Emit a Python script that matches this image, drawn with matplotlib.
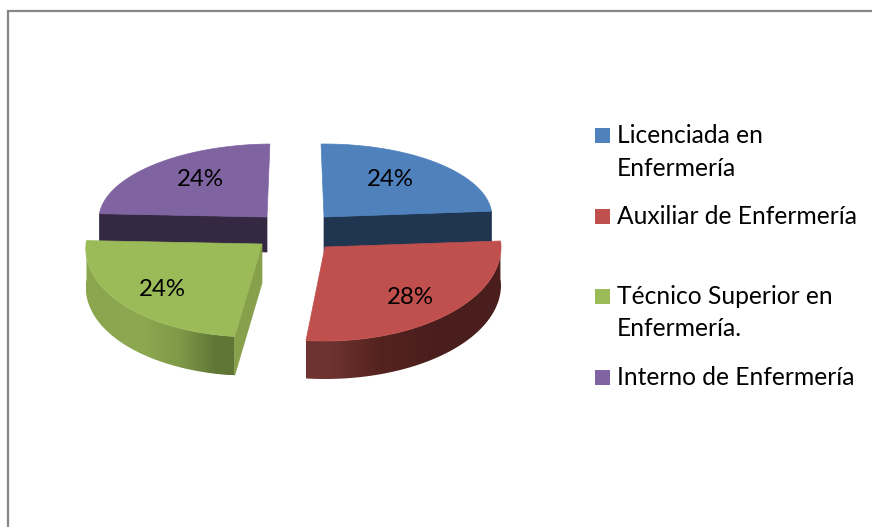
import matplotlib
matplotlib.use('Agg')
import matplotlib.pyplot as plt
from matplotlib.colors import to_rgb
from matplotlib.patches import Polygon, Rectangle
import numpy as np

labels = ['Licenciada en\nEnfermería', 'Auxiliar de Enfermería',
          'Técnico Superior en\nEnfermería.', 'Interno de Enfermería']
values = [24, 28, 24, 24]
colors = ['#4F81BD', '#C0504D', '#9BBB59', '#8064A2']

# exploded slice geometry in pixels, the fake 3d look needs one set per slice
centers = [(324, 217), (325, 247), (262, 244), (267, 217)]
radii_x = [168, 176, 176, 168]
radii_back = [73, 75, 75, 73]
radii_front = [73, 94, 93, 73]
depths = [35, 38, 39, 35]
shears = [0.0, 0.0, -0.09, -0.08]
pct_pos = [(390, 179), (410, 297), (162, 289), (200, 179)]
legend_y = [135, 216, 296, 377]
start_angle = 91


def slice_xy(i, angles):
    rad = np.radians(angles)
    s = np.sin(rad)
    dy = np.where(s > 0, -radii_back[i] * s, -radii_front[i] * s)
    dx = radii_x[i] * np.cos(rad) + shears[i] * dy
    return centers[i][0] + dx, centers[i][1] + dy


def draw_flat_wall(ax, i, angle, color):
    x, y = slice_xy(i, np.array([angle]))
    cx, cy = centers[i]
    d = depths[i]
    ax.add_patch(Polygon([(cx, cy), (x[0], y[0]), (x[0], y[0] + d), (cx, cy + d)],
                         closed=True, fc=color, ec=color, lw=0.5))


def draw_arc_wall(ax, i, a1, a2, stops):
    # horizontal gradient image clipped to the rim of the slice
    x, y = slice_xy(i, np.linspace(a1, a2, 120))
    d = depths[i]
    pts = list(zip(x, y)) + list(zip(x[::-1], y[::-1] + d))
    rim = Polygon(pts, closed=True, fc='none', ec='none', transform=ax.transData)
    ax.add_patch(rim)
    grad = np.array([[to_rgb(c) for c in stops]])
    im = ax.imshow(grad, extent=(x.min(), x.max(), y.max() + d, y.min()),
                   aspect='auto', interpolation='bilinear', zorder=1)
    im.set_clip_path(rim)


def draw_top(ax, i, a1, a2):
    x, y = slice_xy(i, np.linspace(a1, a2, 120))
    pts = [centers[i]] + list(zip(x, y))
    ax.add_patch(Polygon(pts, closed=True, fc=colors[i], ec=colors[i], lw=0.5, zorder=1))


plt.rcParams['font.family'] = ['Lato', 'DejaVu Sans']
fig = plt.figure(figsize=(8.72, 5.27), dpi=100)
ax = fig.add_axes([0, 0, 1, 1])

# chart frame, the bottom and right sides are cut off in the picture
ax.plot([8, 8, 872], [527, 10.5, 10.5], color='#868686', lw=1.6, solid_joinstyle='miter')

edges = start_angle - np.cumsum([0] + values) * 3.6
a = list(zip(edges[:-1], edges[1:]))

# back slices first
draw_flat_wall(ax, 3, a[3][0], '#342842')
draw_top(ax, 3, a[3][0], a[3][1])
draw_flat_wall(ax, 0, a[0][1], '#1F3550')
draw_top(ax, 0, a[0][0], a[0][1])

draw_arc_wall(ax, 2, a[2][0], a[2][1], ['#8AA64E', '#8CA850', '#7F9A48', '#5F7636'])
draw_flat_wall(ax, 2, a[2][0], '#87A04C')
draw_top(ax, 2, a[2][0], a[2][1])

draw_arc_wall(ax, 1, a[1][0], a[1][1], ['#6E3330', '#55231F', '#4B1F1E', '#4A1E1D'])
draw_top(ax, 1, a[1][0], a[1][1])

for (x, y), v in zip(pct_pos, values):
    ax.text(x, y, f'{v}%', fontsize=17.3, ha='center', va='center', color='black', zorder=5)

for y, lab, c in zip(legend_y, labels, colors):
    ax.add_patch(Rectangle((595, y - 7.5), 15, 15, fc=c, ec='none', zorder=5))
    ax.text(617, y - 11, lab, fontsize=17.7, ha='left', va='top', color='black',
            linespacing=1.5, zorder=5)

ax.set_xlim(0, 872)
ax.set_ylim(527, 0)
ax.axis('off')

fig.savefig('out.png', dpi=100, facecolor='white')
